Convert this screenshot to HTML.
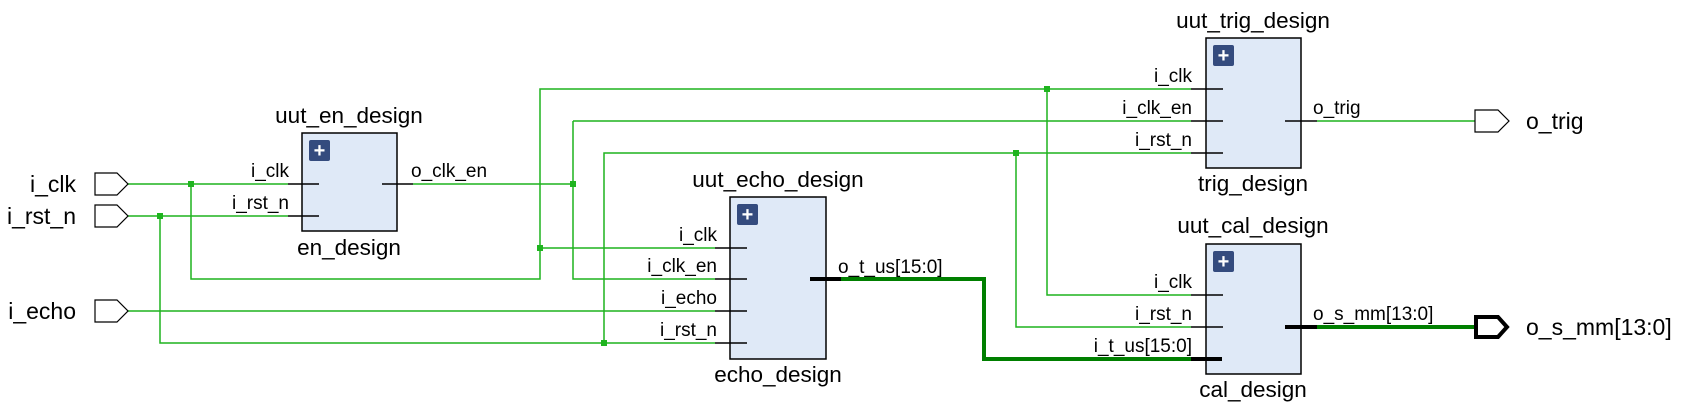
<!DOCTYPE html>
<html><head><meta charset="utf-8"><style>
html,body{margin:0;padding:0;background:#fff;}
svg{display:block;font-family:"Liberation Sans",Arial,sans-serif;}
.n{stroke:#1fb41f;stroke-width:1.5;fill:none;}
.b{stroke:#007f00;stroke-width:4;fill:none;}
.s{stroke:#000;stroke-width:1.5;}
.bs{stroke:#000;stroke-width:4;}
.box{fill:#dfe9f7;stroke:#000;stroke-width:1.5;}
.ic{fill:#344b7e;}
.j{fill:#1fb41f;}
.pl{font-size:19px;fill:#000;text-anchor:end;}
.pr{font-size:19px;fill:#000;}
.t{font-size:22.5px;fill:#000;text-anchor:middle;}
.pt{font-size:23px;fill:#000;}
</style></head><body>
<svg width="1685" height="418" viewBox="0 0 1685 418" xmlns="http://www.w3.org/2000/svg">
<polyline class="n" points="128,184 288,184"/>
<polyline class="n" points="191,184 191,279 540,279 540,89 1191,89"/>
<polyline class="n" points="540,248 715,248"/>
<polyline class="n" points="1047,89 1047,295 1191,295"/>
<polyline class="n" points="128,216 288,216"/>
<polyline class="n" points="160,216 160,343 715,343"/>
<polyline class="n" points="604,343 604,153 1191,153"/>
<polyline class="n" points="1016,153 1016,327 1191,327"/>
<polyline class="n" points="413,184 573,184"/>
<polyline class="n" points="573,121 573,279 715,279"/>
<polyline class="n" points="573,121 1191,121"/>
<polyline class="n" points="128,311 715,311"/>
<polyline class="n" points="1317,121 1475,121"/>
<polyline class="b" points="841,279 984,279 984,359 1191,359"/>
<polyline class="b" points="1317,327 1474,327"/>
<rect class="j" x="188" y="181" width="6" height="6"/>
<rect class="j" x="157" y="213" width="6" height="6"/>
<rect class="j" x="570" y="181" width="6" height="6"/>
<rect class="j" x="537" y="245" width="6" height="6"/>
<rect class="j" x="601" y="340" width="6" height="6"/>
<rect class="j" x="1044" y="86" width="6" height="6"/>
<rect class="j" x="1013" y="150" width="6" height="6"/>
<polygon points="95,173 117,173 128,184 117,195 95,195" fill="#fff" stroke="#000" stroke-width="1.2"/>
<polygon points="95,205 117,205 128,216 117,227 95,227" fill="#fff" stroke="#000" stroke-width="1.2"/>
<polygon points="95,300 117,300 128,311 117,322 95,322" fill="#fff" stroke="#000" stroke-width="1.2"/>
<text class="pt" x="76" y="192" text-anchor="end">i_clk</text>
<text class="pt" x="76" y="224" text-anchor="end">i_rst_n</text>
<text class="pt" x="76" y="319" text-anchor="end">i_echo</text>
<polygon points="1475,110 1498,110 1509,121 1498,132 1475,132" fill="#fff" stroke="#000" stroke-width="1.2"/>
<text class="pt" x="1526" y="129">o_trig</text>
<polygon points="1476,317 1498,317 1507,327 1498,337 1476,337" fill="#fff" stroke="#000" stroke-width="4"/>
<text class="pt" x="1526" y="335">o_s_mm[13:0]</text>

<text class="t" x="349" y="123">uut_en_design</text>
<rect class="box" x="302" y="133" width="95" height="98"/>
<rect class="ic" x="309" y="140" width="21" height="21" rx="2"/>
<text x="319.5" y="157" font-size="20" font-weight="bold" fill="#fff" text-anchor="middle">+</text>
<line class="s" x1="288" y1="184" x2="319" y2="184"/>
<line class="s" x1="288" y1="216" x2="319" y2="216"/>
<line class="s" x1="382" y1="184" x2="413" y2="184"/>
<text class="pl" x="289" y="177">i_clk</text>
<text class="pl" x="289" y="209">i_rst_n</text>
<text class="pr" x="411" y="177">o_clk_en</text>
<text class="t" x="349" y="255">en_design</text>

<text class="t" x="778" y="187">uut_echo_design</text>
<rect class="box" x="730" y="197" width="96" height="162"/>
<rect class="ic" x="737" y="204" width="21" height="21" rx="2"/>
<text x="747.5" y="221" font-size="20" font-weight="bold" fill="#fff" text-anchor="middle">+</text>
<line class="s" x1="715" y1="248" x2="747" y2="248"/>
<line class="s" x1="715" y1="279" x2="747" y2="279"/>
<line class="s" x1="715" y1="311" x2="747" y2="311"/>
<line class="s" x1="715" y1="343" x2="747" y2="343"/>
<line class="bs" x1="810" y1="279" x2="841" y2="279"/>
<text class="pl" x="717" y="241">i_clk</text>
<text class="pl" x="717" y="272">i_clk_en</text>
<text class="pl" x="717" y="304">i_echo</text>
<text class="pl" x="717" y="336">i_rst_n</text>
<text class="pr" x="838" y="273">o_t_us[15:0]</text>
<text class="t" x="778" y="382">echo_design</text>

<text class="t" x="1253" y="28">uut_trig_design</text>
<rect class="box" x="1206" y="38" width="95" height="130"/>
<rect class="ic" x="1213" y="45" width="21" height="21" rx="2"/>
<text x="1223.5" y="62" font-size="20" font-weight="bold" fill="#fff" text-anchor="middle">+</text>
<line class="s" x1="1191" y1="89" x2="1223" y2="89"/>
<line class="s" x1="1191" y1="121" x2="1223" y2="121"/>
<line class="s" x1="1191" y1="153" x2="1223" y2="153"/>
<line class="s" x1="1285" y1="121" x2="1317" y2="121"/>
<text class="pl" x="1192" y="82">i_clk</text>
<text class="pl" x="1192" y="114">i_clk_en</text>
<text class="pl" x="1192" y="146">i_rst_n</text>
<text class="pr" x="1313" y="114">o_trig</text>
<text class="t" x="1253" y="191">trig_design</text>

<text class="t" x="1253" y="233">uut_cal_design</text>
<rect class="box" x="1206" y="244" width="95" height="130"/>
<rect class="ic" x="1213" y="251" width="21" height="21" rx="2"/>
<text x="1223.5" y="268" font-size="20" font-weight="bold" fill="#fff" text-anchor="middle">+</text>
<line class="s" x1="1191" y1="295" x2="1223" y2="295"/>
<line class="s" x1="1191" y1="327" x2="1223" y2="327"/>
<line class="bs" x1="1191" y1="359" x2="1222" y2="359"/>
<line class="bs" x1="1285" y1="327" x2="1317" y2="327"/>
<text class="pl" x="1192" y="288">i_clk</text>
<text class="pl" x="1192" y="320">i_rst_n</text>
<text class="pl" x="1192" y="352">i_t_us[15:0]</text>
<text class="pr" x="1313" y="320">o_s_mm[13:0]</text>
<text class="t" x="1253" y="397">cal_design</text>
</svg>
</body></html>
